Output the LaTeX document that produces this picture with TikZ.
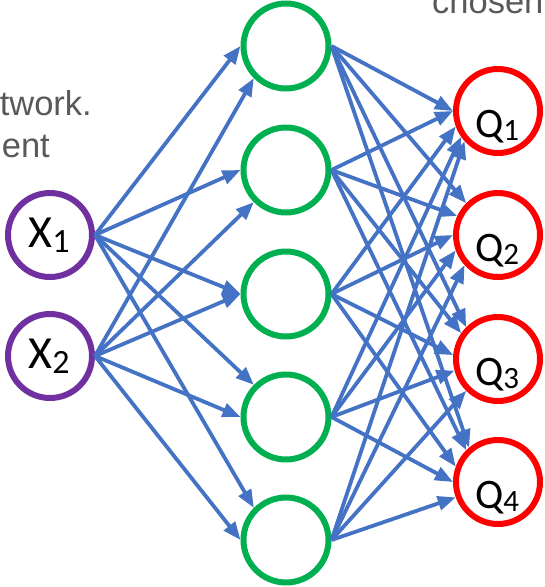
\documentclass[tikz,border=0pt]{standalone}
\usepackage{fontspec}
\usetikzlibrary{arrows.meta}
\newfontfamily\labfont{Carlito}
\newfontfamily\txtfont{Liberation Sans}
\definecolor{edgeblue}{HTML}{4472C4}
\definecolor{inpurple}{HTML}{7030A0}
\definecolor{hidgreen}{HTML}{00B050}
\definecolor{outred}{HTML}{FF0000}
\definecolor{graytxt}{HTML}{595959}
\tikzset{
  neuron/.style={circle, line width=6pt, minimum size=84pt, inner sep=0pt},
  inp/.style={neuron, draw=inpurple},
  hid/.style={neuron, draw=hidgreen, minimum size=85pt},
  outn/.style={neuron, draw=outred},
  conn/.style={draw=edgeblue, line width=3.8pt, -{Triangle[length=18pt,width=14pt]}},
  lab/.style={anchor=base, inner sep=0pt, font=\labfont},
  gtext/.style={inner sep=0pt, text=graytxt, font=\txtfont\fontsize{34.5}{40}\selectfont}
}
\newcommand{\xlab}[1]{\fontsize{46}{46}\selectfont X\raisebox{-5pt}{\fontsize{34}{34}\selectfont #1}}
\newcommand{\qlab}[1]{\fontsize{42}{42}\selectfont Q\raisebox{-3pt}{\fontsize{31}{31}\selectfont #1}}
\begin{document}
\begin{tikzpicture}[x=1pt,y=-1pt]
\useasboundingbox (0,0) rectangle (545,587);
\clip (0,0) rectangle (545,587);

% background text fragments
\node[gtext, anchor=base east] (tw) at (92,115) {twork.};
\node[gtext, anchor=base east] (te) at (50,157) {ent};
\node[gtext, anchor=base west] (tc) at (432,13) {chosen};

% input layer
\node[inp] (x1) at (50,235) {};
\node[inp] (x2) at (50,356) {};
% hidden layer
\node[hid] (h1) at (286,46) {};
\node[hid] (h2) at (286,170) {};
\node[hid] (h3) at (286,294) {};
\node[hid] (h4) at (286,417) {};
\node[hid] (h5) at (286,540) {};
% output layer
\node[outn] (q1) at (498,111) {};
\node[outn] (q2) at (498,235) {};
\node[outn] (q3) at (498,359) {};
\node[outn] (q4) at (498,482) {};

% labels
\node[lab] (lx1) at (49,247) {\xlab{1}};
\node[lab] (lx2) at (49,368) {\xlab{2}};
\node[lab] (lq1) at (497,137) {\qlab{1}};
\node[lab] (lq2) at (497,261) {\qlab{2}};
\node[lab] (lq3) at (497,385) {\qlab{3}};
\node[lab] (lq4) at (497,508) {\qlab{4}};

% input -> hidden
\draw[conn] (x1.east) -- (h1.west);
\draw[conn] (x2.east) -- (h1.225);
\draw[conn] (x1.east) -- (h2.west);
\draw[conn] (x2.east) -- (h2.225);
\draw[conn] (x1.east) -- (h3.west);
\draw[conn] (x2.east) -- (h3.west);
\draw[conn] (x1.east) -- (h4.135);
\draw[conn] (x2.east) -- (h4.west);
\draw[conn] (x1.east) -- (h5.135);
\draw[conn] (x2.east) -- (h5.west);

% hidden -> output
\draw[conn] (h1.east) -- (q1.180);
\draw[conn] (h2.east) -- (q1.180);
\draw[conn] (h3.east) -- (q1.200);
\draw[conn] (h4.east) -- (q1.215);
\draw[conn] (h5.east) -- (q1.222);

\draw[conn] (h1.east) -- (q2.135);
\draw[conn] (h2.east) -- (q2.155);
\draw[conn] (h3.east) -- (q2.180);
\draw[conn] (h4.east) -- (q2.200);
\draw[conn] (h5.east) -- (q2.222);

\draw[conn] (h1.east) -- (q3.135);
\draw[conn] (h2.east) -- (q3.145);
\draw[conn] (h3.east) -- (q3.175);
\draw[conn] (h4.east) -- (q3.195);
\draw[conn] (h5.east) -- (q3.225);

\draw[conn] (h1.east) -- (q4.130);
\draw[conn] (h2.east) -- (q4.135);
\draw[conn] (h3.east) -- (q4.160);
\draw[conn] (h4.east) -- (q4.180);
\draw[conn] (h5.east) -- (q4.200);
\end{tikzpicture}
\end{document}
